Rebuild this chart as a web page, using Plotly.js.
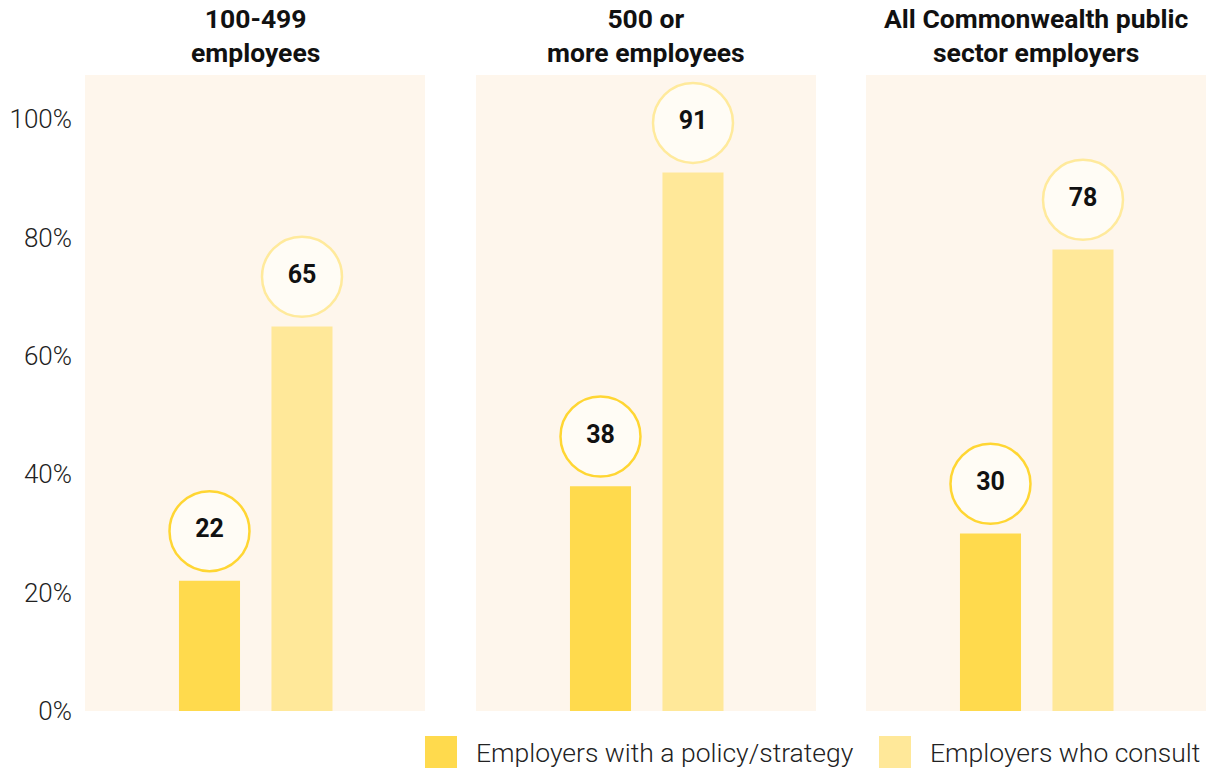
<!DOCTYPE html>
<html>
<head>
<meta charset="utf-8">
<script src="https://cdn.plot.ly/plotly-3.0.1.min.js"></script>
<style>html,body{margin:0;padding:0;background:#fff;}#chart{width:1213px;height:769px;}</style>
</head>
<body>
<div id="chart"></div>
<script>
// ---- data ----
const panelTitles = ['100-499<br>employees', '500 or<br>more employees', 'All Commonwealth public<br>sector employers'];
const seriesNames = ['Employers with a policy/strategy', 'Employers who consult'];
const policyValues = [22, 38, 30];
const consultValues = [65, 91, 78];
const yTickVals = [0, 20, 40, 60, 80, 100];
const yTickText = ['0%', '20%', '40%', '60%', '80%', '100%'];

// ---- styles ----
const barColors = ['#FFDA4D', '#FFE899'];
const ringColors = ['#FFD633', '#FFEA9C'];
const bubbleFill = '#FFFCF5';
const panelBg = '#FEF6EC';
const labelOffset = 8.4; // bubble sits above bar
const FONT = 'Roboto, "Open Sans", sans-serif';

const domains = [[85/1213, 425/1213], [476/1213, 816/1213], [866/1213, 1206/1213]];
const yDomain = [(769-711)/769, (769-75)/769];

const traces = [];
const layout = {
  width: 1213, height: 769,
  margin: {l: 0, r: 0, t: 0, b: 0},
  paper_bgcolor: '#ffffff',
  showlegend: false,
  font: {family: FONT, color: '#111'},
  annotations: [],
  shapes: []
};

panelTitles.forEach((title, i) => {
  const xa = i === 0 ? 'x' : 'x' + (i + 1);
  const ya = i === 0 ? 'y' : 'y' + (i + 1);
  const vals = [policyValues[i], consultValues[i]];
  traces.push({
    type: 'bar', x: [0, 1], y: vals, xaxis: xa, yaxis: ya,
    width: 0.66,
    marker: {color: barColors},
    hoverinfo: 'skip'
  });
  traces.push({
    type: 'scatter', mode: 'markers+text', x: [0, 1],
    y: vals.map(v => v + labelOffset), xaxis: xa, yaxis: ya,
    text: vals.map(String), textposition: 'middle center',
    textfont: {family: FONT, size: 25, weight: 'bold', color: '#111'},
    marker: {size: 80, color: bubbleFill, line: {width: 2.5, color: ringColors}},
    hoverinfo: 'skip', cliponaxis: false
  });
  const xKey = i === 0 ? 'xaxis' : 'xaxis' + (i + 1);
  const yKey = i === 0 ? 'yaxis' : 'yaxis' + (i + 1);
  layout[xKey] = {
    domain: domains[i], range: [-1.346, 2.33], anchor: ya,
    showticklabels: false, showgrid: false, zeroline: false, showline: false, ticks: '', fixedrange: true
  };
  layout[yKey] = {
    domain: yDomain, range: [0, 107.5], anchor: xa,
    showgrid: false, zeroline: false, showline: false, ticks: '',
    tickvals: yTickVals, ticktext: yTickText,
    showticklabels: i === 0, ticklabelstandoff: 12,
    tickfont: {family: FONT, size: 26, weight: 300, color: '#222'},
    automargin: false, fixedrange: true
  };
  layout.shapes.push({
    type: 'rect', layer: 'below', xref: xa + ' domain', yref: ya + ' domain',
    x0: 0, x1: 1, y0: 0, y1: 1, fillcolor: panelBg, line: {width: 0}
  });
  layout.annotations.push({
    xref: 'paper', yref: 'paper',
    x: (domains[i][0] + domains[i][1]) / 2, y: (769 - 36) / 769,
    xanchor: 'center', yanchor: 'middle', showarrow: false,
    text: '<b>' + title + '</b>',
    font: {family: FONT, size: 26.5, color: '#111'}
  });
});

// custom legend
const legendSquares = [[425, 457], [879, 911]];
seriesNames.forEach((name, k) => {
  const [a, b] = legendSquares[k];
  layout.shapes.push({
    type: 'rect', xref: 'paper', yref: 'paper',
    x0: a / 1213, x1: b / 1213, y0: (769 - 768) / 769, y1: (769 - 736) / 769,
    fillcolor: barColors[k], line: {width: 0}
  });
  layout.annotations.push({
    xref: 'paper', yref: 'paper', x: (b + 17) / 1213, y: (769 - 752) / 769,
    xanchor: 'left', yanchor: 'middle', showarrow: false,
    text: name, font: {family: FONT, size: 26.5, weight: 300, color: '#222'}
  });
});

Plotly.newPlot('chart', traces, layout, {displayModeBar: false, staticPlot: true});
</script>
</body>
</html>
